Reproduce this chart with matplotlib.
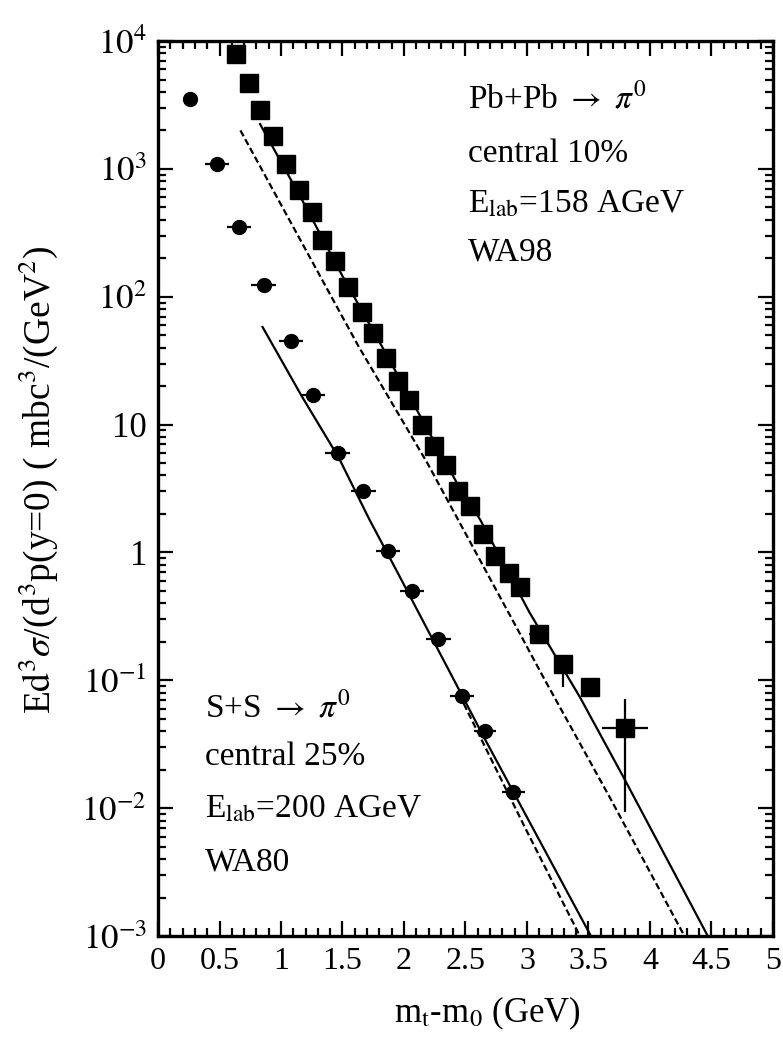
import matplotlib
matplotlib.use('Agg')
import matplotlib.pyplot as plt
from matplotlib.ticker import FixedLocator, FixedFormatter, MultipleLocator, LogLocator, NullFormatter

plt.rcParams['font.family'] = ['Liberation Serif', 'DejaVu Serif']
plt.rcParams['mathtext.fontset'] = 'stix'

# Pb+Pb -> pi0 (WA98), squares
pb_x = [0.634, 0.74, 0.83, 0.935, 1.04, 1.15, 1.25, 1.33, 1.44, 1.545, 1.66, 1.75,
        1.85, 1.95, 2.04, 2.15, 2.24, 2.34, 2.44, 2.54, 2.64, 2.74, 2.85, 2.94,
        3.10, 3.29, 3.51, 3.80]
pb_y = [7900, 4700, 2900, 1800, 1100, 680, 460, 280, 190, 120, 76, 52,
        33, 22, 15.5, 10, 6.8, 4.8, 3.0, 2.3, 1.4, 0.93, 0.69, 0.54,
        0.23, 0.133, 0.089, 0.042]

# error bars on selected Pb+Pb points
pb_err_x = [3.10, 3.29, 3.80]
pb_err_y = [0.23, 0.133, 0.042]
pb_err_xlo = [3.02, 3.29, 3.61]
pb_err_xhi = [3.18, 3.29, 3.98]
pb_err_ylo = [0.21, 0.089, 0.0093]
pb_err_yhi = [0.25, 0.155, 0.071]

# S+S -> pi0 (WA80), circles
ss_x = [0.26, 0.48, 0.66, 0.86, 1.08, 1.26, 1.46, 1.67, 1.87, 2.065, 2.28, 2.47, 2.66, 2.89]
ss_y = [3500, 1100, 350, 123, 45, 17, 6.0, 3.0, 1.02, 0.50, 0.21, 0.075, 0.040, 0.0135]
ss_xerr = [0.0, 0.1, 0.1, 0.1, 0.1, 0.1, 0.1, 0.1, 0.1, 0.1, 0.1, 0.1, 0.09, 0.09]

# model curves
pb_solid_x = [0.83, 1.17, 1.50, 1.82, 2.43, 2.62, 3.02, 3.43, 3.78, 4.47]
pb_solid_y = [2240, 575, 145, 41, 3.5, 1.8, 0.34, 0.074, 0.0178, 0.001]
pb_dash_x = [0.67, 1.63, 2.19, 2.94, 3.13, 3.67, 4.28]
pb_dash_y = [2000, 41, 5.0, 0.234, 0.107, 0.0123, 0.001]
ss_solid_x = [0.85, 1.17, 1.47, 1.72, 1.94, 2.67, 3.52]
ss_solid_y = [58, 16.6, 5.5, 1.8, 0.72, 0.033, 0.001]
ss_dash_x = [2.45, 2.97, 3.43]
ss_dash_y = [0.077, 0.0075, 0.001]

xticks = [0, 0.5, 1, 1.5, 2, 2.5, 3, 3.5, 4, 4.5, 5]
xticklabels = ['0', '0.5', '1', '1.5', '2', '2.5', '3', '3.5', '4', '4.5', '5']
yticks = [1e-3, 1e-2, 1e-1, 1, 10, 1e2, 1e3, 1e4]
yticklabels = [r'$10^{-3}$', r'$10^{-2}$', r'$10^{-1}$', '1', '10',
               r'$10^{2}$', r'$10^{3}$', r'$10^{4}$']

fig = plt.figure(figsize=(7.83, 10.39), dpi=100)
ax = fig.add_axes([0.2018, 0.0991, 0.7854, 0.8614])
ax.set_yscale('log')
ax.set_xlim(0, 5)
ax.set_ylim(1e-3, 1e4)

lw = 1.6
ax.plot(pb_solid_x, pb_solid_y, '-', color='black', lw=lw)
ax.plot(pb_dash_x, pb_dash_y, color='black', lw=lw, linestyle=(0, (3, 1.5)))
ax.plot(ss_solid_x, ss_solid_y, '-', color='black', lw=lw)
ax.plot(ss_dash_x, ss_dash_y, color='black', lw=lw, linestyle=(0, (3, 1.5)))

ax.plot(pb_x, pb_y, 's', color='black', ms=12.5, zorder=5)
xe = [[c - lo for c, lo in zip(pb_err_x, pb_err_xlo)], [hi - c for c, hi in zip(pb_err_x, pb_err_xhi)]]
ye = [[c - lo for c, lo in zip(pb_err_y, pb_err_ylo)], [hi - c for c, hi in zip(pb_err_y, pb_err_yhi)]]
ax.errorbar(pb_err_x, pb_err_y, xerr=xe, yerr=ye, fmt='none', ecolor='black', elinewidth=1.6, capsize=0, zorder=5)

ax.errorbar(ss_x, ss_y, xerr=ss_xerr, fmt='o', color='black', ms=10, elinewidth=1.6, capsize=0, zorder=5)

# ticks
ax.xaxis.set_major_locator(FixedLocator(xticks))
ax.xaxis.set_major_formatter(FixedFormatter(xticklabels))
ax.xaxis.set_minor_locator(MultipleLocator(0.1))
ax.yaxis.set_major_locator(FixedLocator(yticks))
ax.yaxis.set_major_formatter(FixedFormatter(yticklabels))
ax.yaxis.set_minor_locator(LogLocator(base=10, subs=(2, 3, 4, 5, 6, 7, 8, 9), numticks=20))
ax.yaxis.set_minor_formatter(NullFormatter())
ax.tick_params(which='both', direction='in', top=True, right=True, width=1.6, colors='black')
ax.tick_params(which='major', length=11)
ax.tick_params(which='minor', length=6)
ax.tick_params(axis='x', labelsize=23, pad=8)
ax.tick_params(axis='y', labelsize=25, pad=8)
for s in ax.spines.values():
    s.set_linewidth(2.4)

ax.set_xlabel(r'm$_{\rm t}$-m$_{0}$ (GeV)', fontsize=25)
ax.xaxis.set_label_coords(0.535, -0.066)
ax.set_ylabel(r'E$\mathrm{d}^3\sigma$/(d$^3$p(y=0) ( mbc$^3$/(GeV$^2$)', fontsize=27)
ax.yaxis.set_label_coords(-0.16, 0.51)

fs = 24
ax.text(2.52, 10**3.55, r'Pb+Pb $\rightarrow$ $\pi^{0}$', fontsize=fs, va='center', ha='left')
ax.text(2.52, 10**3.12, 'central 10%', fontsize=fs, va='center', ha='left')
ax.text(2.52, 10**2.72, r'E$_{\rm lab}$=158 AGeV', fontsize=fs, va='center', ha='left')
ax.text(2.52, 10**2.35, 'WA98', fontsize=fs, va='center', ha='left')

ax.text(0.38, 10**-1.21, r'S+S $\rightarrow$ $\pi^{0}$', fontsize=fs, va='center', ha='left')
ax.text(0.38, 10**-1.60, 'central 25%', fontsize=fs, va='center', ha='left')
ax.text(0.38, 10**-2.01, r'E$_{\rm lab}$=200 AGeV', fontsize=fs, va='center', ha='left')
ax.text(0.38, 10**-2.42, 'WA80', fontsize=fs, va='center', ha='left')

fig.savefig('out.png', dpi=100)
